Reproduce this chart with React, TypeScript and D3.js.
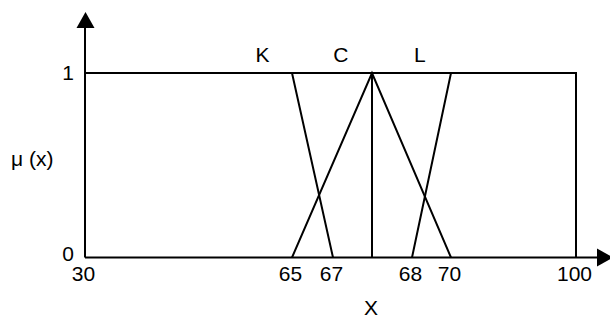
import React from "react";
import * as d3 from "d3";

// ---- data ----
const xTicks = [30, 65, 67, 68, 70, 100];
const xBreaks = [30, 65, 67, 67.5, 68, 70, 100];
const xBreakFrac = [0, 0.4216, 0.5051, 0.5845, 0.666, 0.7454, 1];
const yTicks = [0, 1];
const setK = [
  [30, 1],
  [65, 1],
  [67, 0],
];
const setC = [
  [65, 0],
  [67.5, 1],
  [70, 0],
];
const setL = [
  [68, 0],
  [70, 1],
  [100, 1],
  [100, 0],
];
const peakLine = [
  [67.5, 0],
  [67.5, 1],
];
const topLine = [
  [30, 1],
  [100, 1],
];
const setNames = ["K", "C", "L"];
const setLabelX = [60, 67.1, 68.4];

// ---- layout ----
const W = 610;
const H = 320;
const x0 = 85;
const x1 = 576;
const yBottom = 257.5;
const yTop = 73;
const FS = 21;
const FONT = "'Liberation Sans', Arial, sans-serif";

export default function App() {
  const x = d3
    .scaleLinear()
    .domain(xBreaks)
    .range(xBreakFrac.map((f) => x0 + f * (x1 - x0)));
  const y = d3.scaleLinear().domain([0, 1]).range([yBottom, yTop]);
  const line = d3
    .line<number[]>()
    .x((d) => x(d[0]))
    .y((d) => y(d[1]));

  const sets = [topLine, setK, setC, setL, peakLine];
  const arrowLen = 16;
  const arrowHalf = 9;
  const xEnd = 597;
  const yEnd = 28;

  return (
    <svg
      width={W}
      height={H}
      style={{ position: "fixed", left: 0, top: 0, background: "#fff" }}
      fontFamily={FONT}
    >
      <rect width={W} height={H} fill="#fff" />
      {/* axes */}
      <line x1={x0} y1={yBottom} x2={xEnd} y2={yBottom} stroke="#000" strokeWidth={2} />
      <line x1={x0} y1={yBottom} x2={x0} y2={yEnd} stroke="#000" strokeWidth={2} />
      <path
        d={`M${xEnd},${yBottom - arrowHalf}L${xEnd + arrowLen},${yBottom}L${xEnd},${yBottom + arrowHalf}Z`}
        fill="#000"
      />
      <path
        d={`M${x0 - arrowHalf + 0.5},${yEnd}L${x0 + 0.5},${yEnd - arrowLen}L${x0 + arrowHalf + 0.5},${yEnd}Z`}
        fill="#000"
      />
      {/* membership functions */}
      {sets.map((s, i) => (
        <path key={i} d={line(s) || ""} fill="none" stroke="#000" strokeWidth={2} strokeLinejoin="miter" />
      ))}
      {/* x tick labels */}
      {xTicks.map((t) => (
        <text key={t} x={x(t) - 1.5} y={yBottom + 23.5} textAnchor="middle" fontSize={FS} fill="#000">
          {t}
        </text>
      ))}
      {/* y tick labels */}
      {yTicks.map((t) => (
        <text
          key={t}
          x={74}
          y={y(t) + (t === 0 ? 3.5 : 7)}
          textAnchor="end"
          fontSize={FS}
          fill="#000"
        >
          {t}
        </text>
      ))}
      {/* set labels */}
      {setNames.map((n, i) => (
        <text key={n} x={x(setLabelX[i])} y={62} textAnchor="middle" fontSize={FS} fill="#000">
          {n}
        </text>
      ))}
      {/* axis titles */}
      <text x={371} y={315} textAnchor="middle" fontSize={FS} fill="#000">
        X
      </text>
      <text x={11} y={166} textAnchor="start" fontSize={FS} fill="#000">
        μ (x)
      </text>
    </svg>
  );
}
